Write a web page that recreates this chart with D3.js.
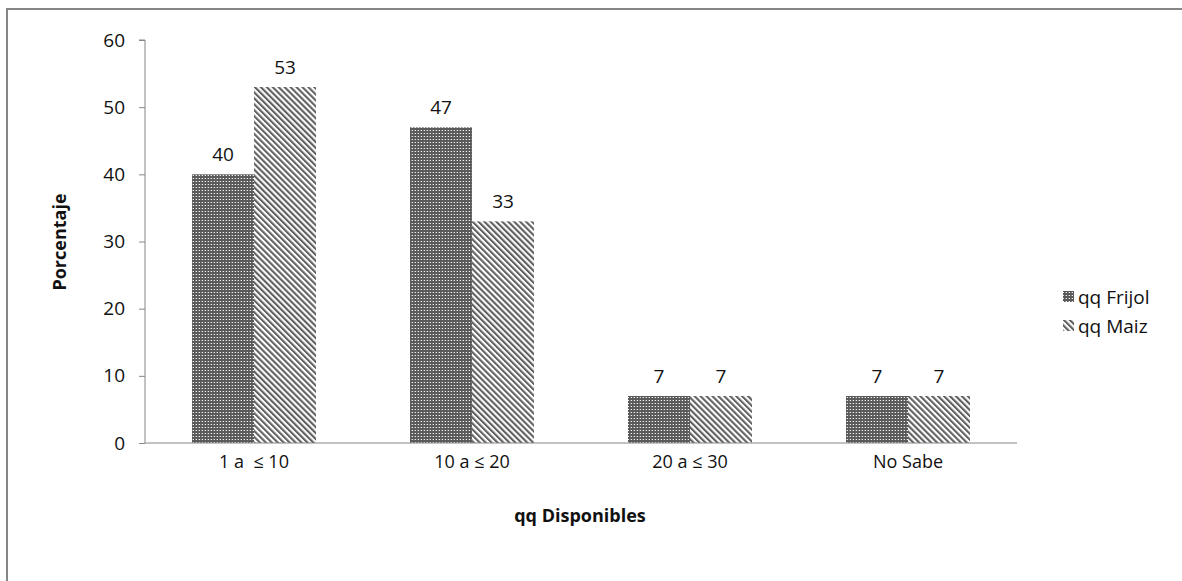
<!DOCTYPE html>
<html><head><meta charset="utf-8">
<script src="https://cdn.jsdelivr.net/npm/d3@7"></script>
<style>body{margin:0;background:#fff}svg{display:block}text{font-family:"Open Sans","Liberation Sans",sans-serif;white-space:pre}</style>
</head><body><svg id="c" width="1182" height="581"></svg>
<script>
const categories = ["1 a  \u2264 10", "10 a \u2264 20", "20 a \u2264 30", "No Sabe"];
const seriesNames = ["qq Frijol", "qq Maiz"];
const frijol = [40, 47, 7, 7];
const maiz = [53, 33, 7, 7];
const yTicks = [0, 10, 20, 30, 40, 50, 60];

const svg = d3.select("#c");
const defs = svg.append("defs");
const p1 = defs.append("pattern").attr("id","pF").attr("patternUnits","userSpaceOnUse").attr("width",3).attr("height",3);
p1.append("rect").attr("width",3).attr("height",3).attr("fill","#5a5a5a");
p1.append("rect").attr("x",1).attr("y",1).attr("width",1).attr("height",1).attr("fill","#f0f0f0");
p1.append("rect").attr("x",0).attr("y",1).attr("width",1).attr("height",1).attr("fill","#8a8a8a");
const p2 = defs.append("pattern").attr("id","pM").attr("patternUnits","userSpaceOnUse").attr("width",4.2).attr("height",4.2)
  .attr("patternTransform","rotate(-45)");
p2.append("rect").attr("width",4.2).attr("height",4.2).attr("fill","#ffffff");
p2.append("rect").attr("width",2.1).attr("height",4.2).attr("fill","#606060");
const fills = ["url(#pF)","url(#pM)"];

svg.append("path").attr("d","M7,581 V9 H1182").attr("fill","none").attr("stroke","#868686").attr("stroke-width",2);

const x0 = d3.scaleBand().domain(categories).range([145,1017]).paddingInner(0).paddingOuter(0);
const y = d3.scaleLinear().domain([0,60]).range([443,40]);
const bw = 62;
const F = 19;

const g = svg.append("g");
categories.forEach((c,i)=>{
  const cx = x0(c) + x0.bandwidth()/2;
  [frijol[i], maiz[i]].forEach((v,j)=>{
    const xx = cx - bw + j*bw;
    g.append("rect").attr("x",xx).attr("y",y(v)).attr("width",bw).attr("height",y(0)-y(v)).attr("fill",fills[j]);
    g.append("text").attr("x",xx+bw/2).attr("y",y(v)-13).attr("text-anchor","middle")
      .attr("font-size",F).attr("fill","#111").text(v);
  });
});

const ya = svg.append("g").attr("transform","translate(145,0)")
  .call(d3.axisLeft(y).tickValues(yTicks).tickSize(6).tickPadding(14));
ya.select(".domain").attr("stroke","#868686").attr("d","M-6,"+y(60)+"H0V"+y(0));
ya.selectAll(".tick line").attr("stroke","#868686");
ya.selectAll("text").attr("font-size",F).attr("fill","#111").attr("font-family","'Open Sans',sans-serif");

const xa = svg.append("g").attr("transform","translate(0,443)")
  .call(d3.axisBottom(x0).tickSize(0).tickPadding(12));
xa.select(".domain").attr("stroke","#868686").attr("d","M145,0H1017");
xa.selectAll("text").attr("font-size",18).attr("fill","#111").attr("font-family","'Open Sans',sans-serif");

svg.append("text").attr("transform","translate(66,242) rotate(-90)").attr("text-anchor","middle")
  .attr("font-size",18).attr("font-weight","bold").attr("fill","#111").text("Porcentaje");
svg.append("text").attr("x",580).attr("y",522).attr("text-anchor","middle")
  .attr("font-size",18).attr("font-weight","bold").attr("fill","#111").text("qq Disponibles");

const lg = svg.append("g");
seriesNames.forEach((n,i)=>{
  const yy = 297 + i*29;
  lg.append("rect").attr("x",1063).attr("y",yy-6).attr("width",11).attr("height",11).attr("fill",fills[i]);
  lg.append("text").attr("x",1078).attr("y",yy+7).attr("font-size",F).attr("fill","#111").text(n);
});
</script></body></html>
